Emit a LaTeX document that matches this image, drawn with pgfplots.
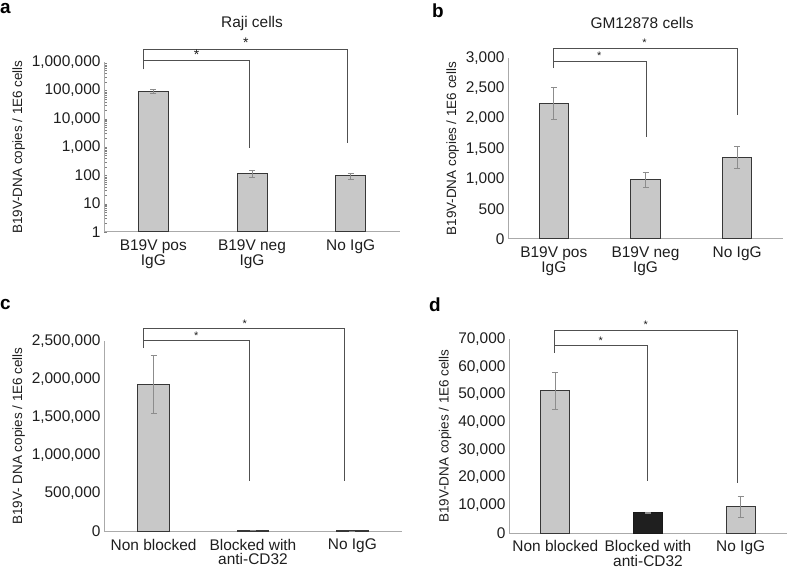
\documentclass[border=0pt]{standalone}
\usepackage{pgfplots}
\pgfplotsset{compat=1.18}
\usepackage{fontspec}
\setmainfont{Liberation Sans}
\definecolor{barfill}{RGB}{200,200,200}
\definecolor{baredge}{RGB}{55,55,55}
\definecolor{errc}{RGB}{140,140,140}
\definecolor{axc}{RGB}{170,170,170}
\definecolor{brk}{RGB}{80,80,80}
\definecolor{txt}{RGB}{30,30,30}
\pgfplotsset{
  panel/.style={
    scale only axis, anchor=south west, clip=false,
    xmin=-0.5, xmax=2.5, xtick={0,1,2},
    axis x line*=bottom, axis y line*=left,
    axis line style={axc, line width=1pt, -},
    major tick length=0pt,
    tick label style={font=\fontsize{15.5}{15}\selectfont, text=txt},
    xticklabel style={align=center, yshift=-4bp},
    ylabel style={font=\fontsize{13.5}{14}\selectfont, text=txt},
    /pgf/number format/assume math mode=true,
    /pgf/number format/1000 sep={,},
    /pgf/number format/fixed,
    scaled y ticks=false,
  },
  barsty/.style={ybar, bar shift=0pt, fill=barfill, draw=baredge, line width=1pt},
  errs/.style={error bars/.cd, y dir=both, y explicit, error mark=|,
    error bar style={errc, line width=0.8pt},
    error mark options={errc, line width=0.8pt, mark size=3bp}},
}
\begin{document}
\begin{tikzpicture}
\useasboundingbox (0,0) rectangle (788bp,571bp);
% ---------------- panel a ----------------
\begin{axis}[panel, at={(104bp,339bp)}, width=296bp, height=170bp,
  ymode=log, ymin=1, ymax=1000000, log origin=0,
  ytick={1,10,100,1000,10000,100000,1000000},
  yticklabels={1,10,100,{1,000},{10,000},{100,000},{1,000,000}},
  xticklabels={{B19V pos\\IgG},{B19V neg\\IgG},{No IgG}},
  ylabel={B19V-DNA copies / 1E6 cells}]
\addplot[barsty, bar width=30bp, errs] coordinates {(0,93000) +- (0,18000) (1,115) +- (0,30) (2,95) +- (0,25)};
\draw[brk, line width=1pt] (rel axis cs:0.132,0.957) -- (rel axis cs:0.132,1.075) -- (rel axis cs:0.823,1.075) -- (rel axis cs:0.823,0.522);
\draw[brk, line width=1pt] (rel axis cs:0.132,1.006) -- (rel axis cs:0.491,1.006) -- (rel axis cs:0.491,0.496);
\node[anchor=base, font=\fontsize{14}{14}\selectfont, text=txt, inner sep=0pt] at (rel axis cs:0.479,1.085) {*};
\node[anchor=base, font=\fontsize{14}{14}\selectfont, text=txt, inner sep=0pt] at (rel axis cs:0.313,1.016) {*};
\end{axis}
% ---------------- panel b ----------------
\begin{axis}[panel, at={(508bp,332bp)}, width=275bp, height=180.7bp,
  ymin=0, ymax=3000, ytick={0,500,...,3000},
  xticklabels={{B19V pos\\IgG},{B19V neg\\IgG},{No IgG}},
  ylabel={B19V-DNA copies / 1E6 cells}]
\addplot[barsty, bar width=29.5bp, errs] coordinates {(0,2250) +- (0,270) (1,980) +- (0,130) (2,1355) +- (0,175)};
\draw[brk, line width=1pt] (rel axis cs:0.164,0.945) -- (rel axis cs:0.164,1.055) -- (rel axis cs:0.833,1.055) -- (rel axis cs:0.833,0.686);
\draw[brk, line width=1pt] (rel axis cs:0.164,0.985) -- (rel axis cs:0.502,0.985) -- (rel axis cs:0.502,0.563);
\node[anchor=base, font=\fontsize{11}{11}\selectfont, text=txt, inner sep=0pt] at (rel axis cs:0.496,1.063) {*};
\node[anchor=base, font=\fontsize{11}{11}\selectfont, text=txt, inner sep=0pt] at (rel axis cs:0.332,0.993) {*};
\end{axis}
% ---------------- panel c ----------------
\begin{axis}[panel, at={(104bp,39.7bp)}, width=298bp, height=190.7bp,
  ymin=0, ymax=2500000, ytick={0,500000,1000000,1500000,2000000,2500000},
  xticklabels={{Non blocked},{Blocked with\\anti-CD32},{No IgG}},
  ylabel={B19V- DNA copies / 1E6 cells}]
\addplot[barsty, bar width=31.5bp, errs] coordinates {(0,1920000) +- (0,380000) (1,10000) +- (0,0) (2,5000) +- (0,0)};
\draw[brk, line width=1pt] (rel axis cs:0.133,0.96) -- (rel axis cs:0.133,1.061) -- (rel axis cs:0.808,1.061) -- (rel axis cs:0.808,0.265);
\draw[brk, line width=1pt] (rel axis cs:0.133,1.0) -- (rel axis cs:0.489,1.0) -- (rel axis cs:0.489,0.265);
\node[anchor=base, font=\fontsize{11}{11}\selectfont, text=txt, inner sep=0pt] at (rel axis cs:0.472,1.069) {*};
\node[anchor=base, font=\fontsize{11}{11}\selectfont, text=txt, inner sep=0pt] at (rel axis cs:0.31,1.008) {*};
\end{axis}
% ---------------- panel d ----------------
\begin{axis}[panel, at={(509bp,38bp)}, width=278bp, height=194bp,
  ymin=0, ymax=70000, ytick={0,10000,...,70000},
  xticklabels={{Non blocked},{Blocked with\\anti-CD32},{No IgG}},
  ylabel={B19V-DNA copies / 1E6 cells}]
\addplot[barsty, bar width=29bp, errs] coordinates {(0,51300) +- (0,6600) (2,9500) +- (0,3700)};
\addplot[barsty, bar width=29bp, fill=black!88, draw=black!90, errs] coordinates {(1,7300) +- (0,150)};
\draw[brk, line width=1pt] (rel axis cs:0.165,0.929) -- (rel axis cs:0.165,1.046) -- (rel axis cs:0.821,1.046) -- (rel axis cs:0.821,0.259);
\draw[brk, line width=1pt] (rel axis cs:0.165,0.964) -- (rel axis cs:0.497,0.964) -- (rel axis cs:0.497,0.27);
\node[anchor=base, font=\fontsize{11}{11}\selectfont, text=txt, inner sep=0pt] at (rel axis cs:0.492,1.054) {*};
\node[anchor=base, font=\fontsize{11}{11}\selectfont, text=txt, inner sep=0pt] at (rel axis cs:0.33,0.972) {*};
\end{axis}
% ---------------- titles and panel letters ----------------
\node[font=\fontsize{15.5}{15}\selectfont, text=txt] at (252bp,547bp) {Raji cells};
\node[font=\fontsize{15.5}{15}\selectfont, text=txt] at (642bp,548bp) {GM12878 cells};
\node[anchor=base west, inner sep=0pt, font=\fontsize{19}{19}\selectfont\bfseries] at (0bp,557bp) {a};
\node[anchor=base west, inner sep=0pt, font=\fontsize{19}{19}\selectfont\bfseries] at (432bp,553bp) {b};
\node[anchor=base west, inner sep=0pt, font=\fontsize{19}{19}\selectfont\bfseries] at (0bp,261bp) {c};
\node[anchor=base west, inner sep=0pt, font=\fontsize{19}{19}\selectfont\bfseries] at (429bp,259bp) {d};
\end{tikzpicture}
\end{document}
